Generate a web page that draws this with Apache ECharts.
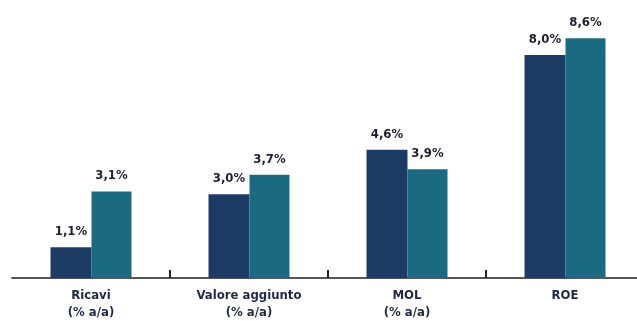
<!DOCTYPE html>
<html><head><meta charset="utf-8">
<script src="https://cdn.jsdelivr.net/npm/echarts@6/dist/echarts.min.js"></script>
<style>html,body{margin:0;padding:0;background:#fff;overflow:hidden;}#c{width:650px;height:321px;}</style>
</head><body><div id="c"></div>
<script>
const categories = ['Ricavi\n(% a/a)', 'Valore aggiunto\n(% a/a)', 'MOL\n(% a/a)', 'ROE'];
const seriesA = [1.1, 3.0, 4.6, 8.0];
const seriesB = [3.1, 3.7, 3.9, 8.6];
const font = "'DejaVu Sans Condensed', 'Liberation Sans Narrow', sans-serif";
const fmt = p => p.value.toFixed(1).replace('.', ',') + '%';
const chart = echarts.init(document.getElementById('c'));
chart.setOption({
  animation: false,
  grid: { left: 12, width: 632, top: 27, bottom: 42 },
  xAxis: {
    type: 'category', data: categories,
    axisLine: { lineStyle: { color: '#555', width: 2 } },
    axisTick: { show: true, inside: true, length: 8, interval: (i) => i >= 1 && i <= 3, lineStyle: { color: '#222', width: 2 } },
    axisLabel: { color: '#1e2a44', fontFamily: font, fontWeight: 'bold', fontSize: 13, lineHeight: 17, margin: 9 }
  },
  yAxis: { type: 'value', min: 0, max: 9, show: false, splitLine: { show: false } },
  series: [
    { type: 'bar', data: seriesA, barWidth: 41, barGap: '0%', itemStyle: { color: '#1c3c66' },
      label: { show: true, position: 'top', formatter: fmt, color: '#1e1e2e', fontFamily: font, fontWeight: 'bold', fontSize: 13, distance: 9 } },
    { type: 'bar', data: seriesB, barWidth: 40, barGap: '0%', itemStyle: { color: '#1a6a82' },
      label: { show: true, position: 'top', formatter: fmt, color: '#1e1e2e', fontFamily: font, fontWeight: 'bold', fontSize: 13, distance: 9 } }
  ]
});
</script></body></html>
